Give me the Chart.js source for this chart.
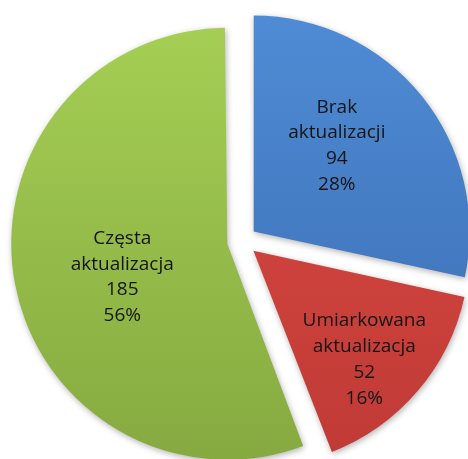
<!DOCTYPE html>
<html>
<head>
<meta charset="utf-8">
<script src="https://cdn.jsdelivr.net/npm/chart.js@4/dist/chart.umd.min.js"></script>
<style>
html,body{margin:0;padding:0;background:#fff;}
#wrap{width:468px;height:459px;}
</style>
</head>
<body>
<div id="wrap"><canvas id="c" width="468" height="459"></canvas></div>
<script>
const categories = [["Brak", "aktualizacji"], ["Umiarkowana", "aktualizacja"], ["Częsta", "aktualizacja"]];
const values = [94, 52, 185];
const percentLabels = ["28%", "16%", "56%"];
const topColors = ["#4f8cd6", "#dc4a45", "#a5cf54"];
const bottomColors = ["#3a6cb0", "#c03a35", "#86aa40"];
// label placement: [angle shift in degrees from bisector, fraction of radius]
const labelPlace = [[-7, 0.553], [4, 0.72], [-7, 0.51]];
const PIE_RADIUS = 216;
const EXPLODE = 60; // Chart.js v4 draws offset/4 px

function grad(ctx, i) {
  const g = ctx.chart.ctx.createLinearGradient(0, 15, 0, 455);
  g.addColorStop(0, topColors[i]);
  g.addColorStop(1, bottomColors[i]);
  return g;
}

const fixRadiusPlugin = {
  id: 'fixRadius',
  beforeDatasetsDraw(chart) {
    const meta = chart.getDatasetMeta(0);
    meta.data.forEach(arc => {
      const off = (arc.options.offset || 0) / 4;
      const fix = 1 - Math.sin(Math.min(Math.PI, arc.circumference || 0));
      arc.outerRadius = PIE_RADIUS - off * fix;
    });
    const c = chart.ctx;
    c.save();
    c.shadowColor = 'rgba(0,0,0,0.3)';
    c.shadowBlur = 6;
    c.shadowOffsetX = 1;
    c.shadowOffsetY = 2;
  },
  afterDatasetsDraw(chart) {
    chart.ctx.restore();
  }
};

const labelPlugin = {
  id: 'sliceLabels',
  afterDatasetsDraw(chart) {
    const meta = chart.getDatasetMeta(0);
    const c = chart.ctx;
    c.save();
    c.shadowColor = 'transparent';
    c.fillStyle = '#151515';
    c.font = '19px "Open Sans", sans-serif';
    c.textAlign = 'center';
    c.textBaseline = 'middle';
    meta.data.forEach((arc, i) => {
      const p = arc.getProps(['x', 'y', 'startAngle', 'endAngle'], true);
      const off = (arc.options.offset || 0) / 4;
      const mid = (p.startAngle + p.endAngle) / 2;
      const a = mid + labelPlace[i][0] * Math.PI / 180;
      const ox = p.x + Math.cos(mid) * off;
      const oy = p.y + Math.sin(mid) * off;
      const r = PIE_RADIUS * labelPlace[i][1];
      const cx = ox + Math.cos(a) * r;
      const cy = oy + Math.sin(a) * r;
      const lines = [...categories[i], String(values[i]), percentLabels[i]];
      const lh = 25.8;
      lines.forEach((t, k) => {
        c.fillText(t, cx, cy + (k - (lines.length - 1) / 2) * lh);
      });
    });
    c.restore();
  }
};

new Chart(document.getElementById('c'), {
  type: 'pie',
  data: {
    labels: categories.map(l => l.join(' ')),
    datasets: [{
      data: values,
      backgroundColor: (ctx) => grad(ctx, ctx.dataIndex),
      borderWidth: 0,
      offset: EXPLODE
    }]
  },
  options: {
    responsive: false,
    animation: false,
    radius: PIE_RADIUS,
    layout: { padding: { left: 16, right: 0, top: 23, bottom: 0 } },
    plugins: { legend: { display: false }, tooltip: { enabled: false } }
  },
  plugins: [fixRadiusPlugin, labelPlugin]
});
</script>
</body>
</html>
